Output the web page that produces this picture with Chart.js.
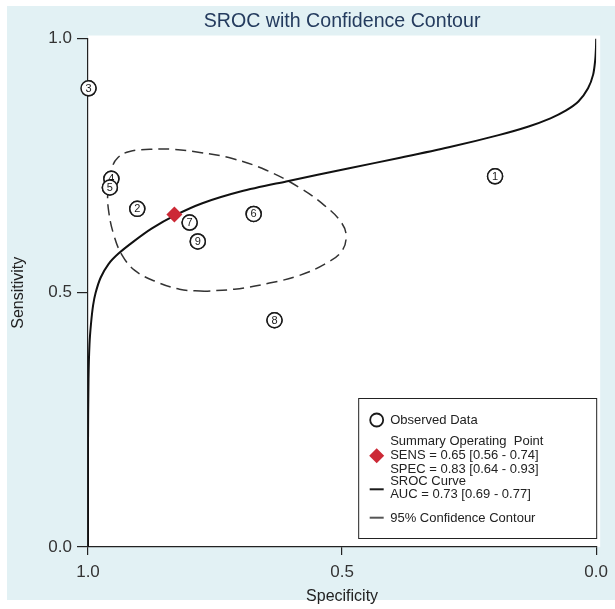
<!DOCTYPE html>
<html>
<head>
<meta charset="utf-8">
<script src="https://cdn.jsdelivr.net/npm/chart.js@4.4.1/dist/chart.umd.min.js"></script>
<style>
  html, body { margin: 0; padding: 0; background: #fff; }
  #wrap { width: 615px; height: 609px; }
</style>
</head>
<body>
<div id="wrap"><canvas id="myChart"></canvas></div>
<script>
// axis ticks
var specTicks = [1.0, 0.5, 0.0];
var sensTicks = [0.0, 0.5, 1.0];

// observed studies
var studyIds  = ['1', '2', '3', '4', '5', '6', '7', '8', '9'];
var studySpec = [0.199, 0.903, 0.999, 0.954, 0.957, 0.674, 0.800, 0.633, 0.784];
var studySens = [0.729, 0.665, 0.902, 0.724, 0.707, 0.655, 0.638, 0.446, 0.601];

// summary operating point
var summarySpec = [0.83];
var summarySens = [0.654];

// SROC curve
var srocSpec = [1.000, 1.000, 0.999, 0.997, 0.994, 0.990, 0.985, 0.975, 0.960, 0.940, 0.910, 0.875, 0.829, 0.775, 0.700, 0.610, 0.486, 0.388, 0.290, 0.192, 0.133, 0.090, 0.060, 0.035, 0.016, 0.006, 0.002, 0.0005, 0.000];
var srocSens = [0.000, 0.200, 0.330, 0.400, 0.440, 0.475, 0.500, 0.530, 0.556, 0.577, 0.601, 0.626, 0.652, 0.676, 0.699, 0.719, 0.745, 0.765, 0.786, 0.810, 0.827, 0.843, 0.858, 0.876, 0.902, 0.929, 0.957, 0.980, 1.000];

// 95% confidence contour (closed)
var contourSpec = [0.771, 0.820, 0.869, 0.908, 0.933, 0.949, 0.959, 0.961, 0.953, 0.941, 0.918, 0.878, 0.829, 0.780, 0.716, 0.649, 0.584, 0.535, 0.502, 0.492, 0.502, 0.535, 0.584, 0.643, 0.712, 0.771];
var contourSens = [0.503, 0.507, 0.523, 0.544, 0.574, 0.613, 0.658, 0.697, 0.745, 0.766, 0.778, 0.782, 0.782, 0.776, 0.764, 0.741, 0.707, 0.672, 0.639, 0.611, 0.580, 0.556, 0.534, 0.519, 0.507, 0.503];

var legendObserved = ['Observed Data'];
var legendSummary = ['Summary Operating  Point', 'SENS = 0.65 [0.56 - 0.74]', 'SPEC = 0.83 [0.64 - 0.93]'];
var legendCurve = ['SROC Curve', 'AUC = 0.73 [0.69 - 0.77]'];
var legendContour = ['95% Confidence Contour'];

function toPoints(xs, ys) {
    return xs.map(function (x, i) { return { x: x, y: ys[i] }; });
}

var FONT = "'Liberation Sans', Arial, Helvetica, sans-serif";

var panelBg = {
    id: 'panelBg',
    beforeDraw: function (chart) {
        var c = chart.ctx, a = chart.chartArea;
        c.save();
        c.fillStyle = '#ffffff';
        c.fillRect(0, 0, chart.width, chart.height);
        c.fillStyle = '#e2f1f4';
        c.fillRect(7, 6, chart.width - 7, chart.height - 15);
        c.fillStyle = '#ffffff';
        c.fillRect(a.left, a.top - 3, a.right - a.left + 4, a.bottom - a.top + 3);
        c.restore();
    }
};

// circled study numbers, drawn in data order so overlaps stack like the original
var studyLabels = {
    id: 'studyLabels',
    afterDatasetsDraw: function (chart) {
        var c = chart.ctx;
        var meta = chart.getDatasetMeta(0);
        c.save();
        meta.data.forEach(function (pt, i) {
            c.beginPath();
            c.arc(pt.x, pt.y, 7.5, 0, Math.PI * 2);
            c.fillStyle = '#ffffff';
            c.fill();
            c.lineWidth = 1.5;
            c.strokeStyle = '#1a1a1a';
            c.stroke();
            c.fillStyle = '#1a1a1a';
            c.font = '11px ' + FONT;
            c.textAlign = 'center';
            c.textBaseline = 'middle';
            c.fillText(studyIds[i], pt.x, pt.y + 0.5);
        });
        c.restore();
    }
};

var legendBox = {
    id: 'legendBox',
    afterDraw: function (chart) {
        var c = chart.ctx, a = chart.chartArea;
        var w = 238, h = 140;
        var x0 = a.right - w, y0 = a.bottom - 149;
        var sx = x0 + 18.5, tx = x0 + 32;
        c.save();
        c.fillStyle = '#ffffff';
        c.fillRect(x0, y0, w, h);
        c.strokeStyle = '#222';
        c.lineWidth = 1;
        c.strokeRect(x0 + 0.5, y0 + 0.5, w, h);

        c.font = '13px ' + FONT;
        c.fillStyle = '#222';
        c.textAlign = 'left';
        c.textBaseline = 'middle';

        // observed
        c.beginPath();
        c.arc(sx, y0 + 22, 6.5, 0, Math.PI * 2);
        c.lineWidth = 1.8;
        c.strokeStyle = '#1a1a1a';
        c.stroke();
        c.fillText(legendObserved[0], tx, y0 + 22);

        // summary point
        var dy = y0 + 57.7;
        c.beginPath();
        c.moveTo(sx, dy - 7.5);
        c.lineTo(sx + 7.5, dy);
        c.lineTo(sx, dy + 7.5);
        c.lineTo(sx - 7.5, dy);
        c.closePath();
        c.fillStyle = '#cc2936';
        c.fill();
        c.fillStyle = '#222';
        [43.7, 57.7, 71].forEach(function (yy, i) { c.fillText(legendSummary[i], tx, y0 + yy); });

        // curve
        c.beginPath();
        c.moveTo(sx - 7, y0 + 91.3);
        c.lineTo(sx + 7, y0 + 91.3);
        c.lineWidth = 2;
        c.strokeStyle = '#1a1a1a';
        c.stroke();
        [83.7, 96.3].forEach(function (yy, i) { c.fillText(legendCurve[i], tx, y0 + yy); });

        // contour
        c.beginPath();
        c.moveTo(sx - 7, y0 + 119.7);
        c.lineTo(sx + 7, y0 + 119.7);
        c.strokeStyle = '#555';
        c.stroke();
        c.fillText(legendContour[0], tx, y0 + 120);
        c.restore();
    }
};

window.addEventListener('load', function () {
    var ctx = document.getElementById('myChart').getContext('2d');
    var chart = new Chart(ctx, {
        type: 'scatter',
        data: {
            datasets: [{
                label: 'Observed Data',
                data: toPoints(studySpec, studySens),
                pointRadius: 7.5,
                pointBackgroundColor: '#ffffff',
                pointBorderColor: '#1a1a1a',
                pointBorderWidth: 1.5
            }, {
                label: 'Summary Operating Point',
                data: toPoints(summarySpec, summarySens),
                pointStyle: 'rectRot',
                pointRadius: 8,
                pointBackgroundColor: '#cc2936',
                pointBorderColor: '#cc2936',
                pointBorderWidth: 0
            }, {
                label: 'SROC Curve',
                data: toPoints(srocSpec, srocSens),
                showLine: true,
                pointRadius: 0,
                borderColor: '#111',
                borderWidth: 2,
                tension: 0.3
            }, {
                label: '95% Confidence Contour',
                data: toPoints(contourSpec, contourSens),
                showLine: true,
                pointRadius: 0,
                borderColor: '#333',
                borderWidth: 1.5,
                borderDash: [11, 6],
                tension: 0.4
            }]
        },
        options: {
            responsive: true,
            maintainAspectRatio: false,
            animation: false,
            events: [],
            layout: { padding: { left: 0, right: 17, top: 0, bottom: 0 } },
            plugins: {
                legend: { display: false },
                tooltip: { enabled: false },
                title: {
                    display: true,
                    fullSize: false,
                    text: 'SROC with Confidence Contour',
                    color: '#243b5e',
                    font: { family: FONT, size: 19.6, weight: 'normal' },
                    padding: { top: 10, bottom: 5 }
                }
            },
            scales: {
                x: {
                    type: 'linear',
                    reverse: true,
                    min: 0,
                    max: 1,
                    afterFit: function (s) { s.height = 62; },
                    afterBuildTicks: function (s) { s.ticks = specTicks.map(function (v) { return { value: v }; }); },
                    ticks: {
                        color: '#333',
                        font: { family: FONT, size: 17 },
                        padding: 7,
                        maxRotation: 0,
                        callback: function (v) { return Number(v).toFixed(1); }
                    },
                    grid: { display: true, drawOnChartArea: false, drawTicks: true, tickLength: 8, color: '#222', lineWidth: 1.2 },
                    border: { display: true, color: '#222', width: 1.2 },
                    title: { display: true, text: 'Specificity', color: '#222', font: { family: FONT, size: 16 }, padding: { top: 0, bottom: 3 } }
                },
                y: {
                    type: 'linear',
                    min: 0,
                    max: 1,
                    afterFit: function (s) { s.width = 88; },
                    afterBuildTicks: function (s) { s.ticks = sensTicks.map(function (v) { return { value: v }; }); },
                    ticks: {
                        color: '#333',
                        font: { family: FONT, size: 17 },
                        padding: 5,
                        callback: function (v) { return Number(v).toFixed(1); }
                    },
                    grid: { display: true, drawOnChartArea: false, drawTicks: true, tickLength: 11, color: '#222', lineWidth: 1.2 },
                    border: { display: true, color: '#222', width: 1.2 },
                    title: { display: true, text: 'Sensitivity', color: '#222', font: { family: FONT, size: 16 }, padding: { top: 9, bottom: 0 } }
                }
            }
        },
        plugins: [panelBg, studyLabels, legendBox]
    });
});
</script>
</body>
</html>
